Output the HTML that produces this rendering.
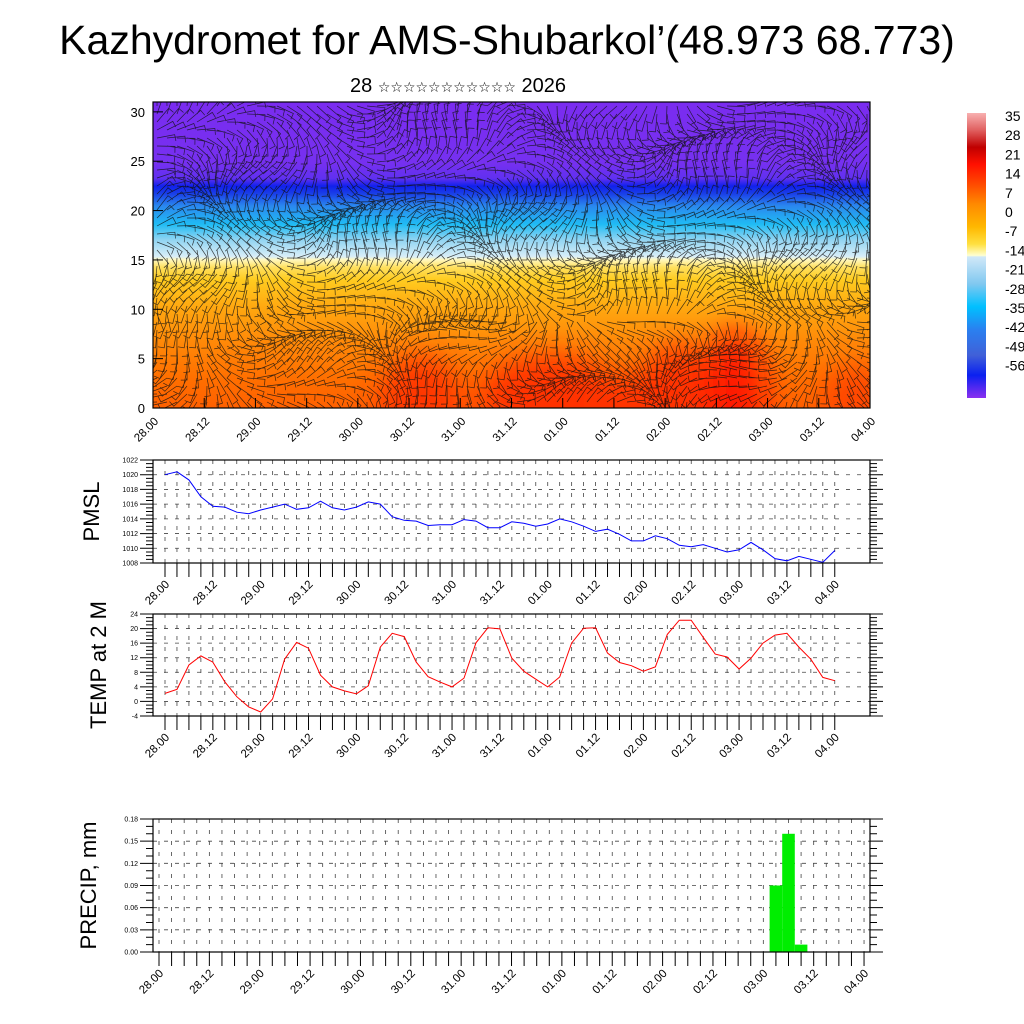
<!DOCTYPE html>
<html><head><meta charset="utf-8">
<style>
html,body{margin:0;padding:0;background:#fff;width:1024px;height:1024px;overflow:hidden}
svg{display:block;font-family:"Liberation Sans","DejaVu Sans",sans-serif}
</style></head>
<body>
<svg id="chart" width="1024" height="1024" viewBox="0 0 1024 1024" xmlns="http://www.w3.org/2000/svg">
<defs>
<linearGradient id="tgrad" x1="0" y1="1" x2="0" y2="0">
<stop offset="0" stop-color="#ff6000"/>
<stop offset="0.1" stop-color="#ff7000"/>
<stop offset="0.22" stop-color="#ff8a08"/>
<stop offset="0.33" stop-color="#ffa810"/>
<stop offset="0.42" stop-color="#ffcc20"/>
<stop offset="0.46" stop-color="#ffe060"/>
<stop offset="0.485" stop-color="#fff8c0"/>
<stop offset="0.495" stop-color="#d8eef8"/>
<stop offset="0.55" stop-color="#90d4f2"/>
<stop offset="0.6" stop-color="#20bcf4"/>
<stop offset="0.66" stop-color="#2a88ee"/>
<stop offset="0.7" stop-color="#1a40e8"/>
<stop offset="0.725" stop-color="#1020ec"/>
<stop offset="0.75" stop-color="#6030f0"/>
<stop offset="0.8" stop-color="#7630f0"/>
<stop offset="1" stop-color="#7a2cf0"/>
</linearGradient>
<linearGradient id="cbgrad" x1="0" y1="0" x2="0" y2="1">
<stop offset="0" stop-color="#f8b0b0"/>
<stop offset="0.06" stop-color="#e06060"/>
<stop offset="0.12" stop-color="#c00000"/>
<stop offset="0.18" stop-color="#ff1000"/>
<stop offset="0.25" stop-color="#ff4a00"/>
<stop offset="0.32" stop-color="#ff8a00"/>
<stop offset="0.4" stop-color="#ffb800"/>
<stop offset="0.46" stop-color="#ffe040"/>
<stop offset="0.5" stop-color="#ffffd0"/>
<stop offset="0.505" stop-color="#d0e8f8"/>
<stop offset="0.6" stop-color="#80c8f0"/>
<stop offset="0.68" stop-color="#00c0ff"/>
<stop offset="0.76" stop-color="#2a80f0"/>
<stop offset="0.85" stop-color="#4060d8"/>
<stop offset="0.92" stop-color="#0a20f0"/>
<stop offset="1" stop-color="#8a30f0"/>
</linearGradient>
<filter id="blur" x="-50%" y="-50%" width="200%" height="200%"><feGaussianBlur stdDeviation="14"/></filter>
<clipPath id="topclip"><rect x="153" y="102" width="717" height="306"/></clipPath>
</defs>
<text x="507" y="54" font-size="41" text-anchor="middle">Kazhydromet for AMS-Shubarkol’(48.973 68.773)</text>
<text x="458" y="92" font-size="20" text-anchor="middle">28 <tspan font-size="14">☆☆☆☆☆☆☆☆☆☆☆</tspan> 2026</text>
<g id="top"></g>
<g id="cbar"></g>
<g id="pmsl"></g>
<g id="temp"></g>
<g id="precip"></g>
</svg>
<script>
const timeLabels = ["28.00","28.12","29.00","29.12","30.00","30.12","31.00","31.12","01.00","01.12","02.00","02.12","03.00","03.12","04.00"];
const pmslValues = [1020.0,1020.4,1019.3,1017.0,1015.7,1015.6,1014.9,1014.7,1015.2,1015.6,1016.0,1015.3,1015.5,1016.4,1015.5,1015.2,1015.6,1016.3,1016.0,1014.3,1013.8,1013.7,1013.1,1013.2,1013.2,1013.9,1013.7,1012.8,1012.8,1013.6,1013.4,1013.0,1013.3,1014.0,1013.6,1013.0,1012.3,1012.6,1011.9,1011.0,1011.0,1011.7,1011.3,1010.4,1010.2,1010.5,1010.0,1009.5,1009.8,1010.8,1009.8,1008.6,1008.3,1008.9,1008.5,1008.1,1009.7];
const tempValues = [2.2,3.3,10.0,12.5,10.8,5.4,1.3,-1.5,-2.9,0.7,11.6,16.2,14.6,7.2,4.0,2.9,2.1,4.3,14.9,18.7,17.8,10.8,6.8,5.3,4.0,6.4,16.1,20.2,19.9,11.9,8.3,6.1,4.0,6.7,16.0,20.1,20.2,13.3,10.7,9.8,8.3,9.5,18.4,22.3,22.3,17.6,13.0,12.2,8.9,11.9,16.0,18.2,18.7,14.9,11.6,6.6,5.7];
const precipValues = [0,0,0,0,0,0,0,0,0,0,0,0,0,0,0,0,0,0,0,0,0,0,0,0,0,0,0,0,0,0,0,0,0,0,0,0,0,0,0,0,0,0,0,0,0,0,0,0,0,0.09,0.16,0.01,0,0,0,0,0];
const pmslTicks = [1008,1010,1012,1014,1016,1018,1020,1022];
const tempTicks = [-4,0,4,8,12,16,20,24];
const precipTicks = [0,0.03,0.06,0.09,0.12,0.15,0.18];
const heightTicks = [0,5,10,15,20,25,30];
const cbarLabels = ["35","28","21","14","7","0","-7","-14","-21","-28","-35","-42","-49","-56"];

const NS="http://www.w3.org/2000/svg";
function mk(parent,tag,attrs,txt){const e=document.createElementNS(NS,tag);for(const k in attrs)e.setAttribute(k,attrs[k]);if(txt!==undefined)e.textContent=txt;parent.appendChild(e);return e;}

/* ---------- top cross-section ---------- */
(function(){
  const g=document.getElementById('top');
  const L=153,R=870,T=102,B=408;
  const hy=v=>B-(v/31)*(B-T);
  mk(g,'rect',{x:L,y:T,width:R-L,height:B-T,fill:'url(#tgrad)'});
  const cg=mk(g,'g',{'clip-path':'url(#topclip)'});
  const bg=mk(cg,'g',{filter:'url(#blur)'});
  const blobs=[[420,405,40,50,'#ff3000'],[550,400,70,45,'#ff2800'],[680,395,40,50,'#ff2a00'],[735,390,30,60,'#ff1000'],[640,405,50,30,'#ff3000'],[855,400,30,35,'#ff4000']];
  blobs.forEach(b=>{const e=mk(bg,'ellipse',{cx:b[0],cy:b[1],rx:b[2],ry:b[3],fill:b[4],'fill-opacity':0.85});
  
  });
  // wind barb texture
  let d='';
  for(let x=L+4;x<R;x+=10){
    for(let y=T+4;y<B;y+=8){
      const a=Math.sin(x*0.021+y*0.013)*1.3+Math.cos(y*0.05-x*0.008)*0.9+ (y>B-90?1.2:0.3);
      const len=18;
      const dx=Math.cos(a)*len, dy=Math.sin(a)*len;
      d+=`M${x.toFixed(1)},${y.toFixed(1)}l${dx.toFixed(1)},${dy.toFixed(1)}`;
      d+=`l${(-dy*0.35).toFixed(1)},${(dx*0.35).toFixed(1)}`;
    }
  }
  const wb=mk(cg,'path',{d:d,stroke:'#111','stroke-width':0.7,'stroke-opacity':0.8,fill:'none'});
  
  
  mk(g,'rect',{x:L,y:T,width:R-L,height:B-T,fill:'none',stroke:'#000','stroke-width':1.2});
  heightTicks.forEach(v=>{const y=hy(v);
    mk(g,'line',{x1:L,x2:L+10,y1:y,y2:y,stroke:'#000'});
    const t=mk(g,'text',{x:L-8,y:y+5,'font-size':13,'text-anchor':'end'},v);
    
    });
  timeLabels.forEach((s,i)=>{const x=L+i*(R-L)/14;
    mk(g,'line',{x1:x,x2:x,y1:B,y2:B-10,stroke:'#000'});
    const t=mk(g,'text',{x:x+6,y:B+14,'font-size':11.5,'text-anchor':'end',transform:`rotate(-45 ${x+6} ${B+14})`},s);
    
    });
})();

/* ---------- colorbar ---------- */
(function(){
  const g=document.getElementById('cbar');
  mk(g,'rect',{x:967,y:113,width:19,height:285,fill:'url(#cbgrad)'});
  cbarLabels.forEach((s,i)=>{const t=mk(g,'text',{x:1005,y:121+i*19.2,'font-size':14},s);
    
    });
})();

/* ---------- line / bar panels ---------- */
function panel(id,o){
  const g=document.getElementById(id);
  const {L,R,T,B,x0,dx,ymin,ymax,ticks,fmt,minor}=o;
  const sy=v=>B-(v-ymin)/(ymax-ymin)*(B-T);
  const sx=i=>x0+i*dx;
  const n=57;
  let gd='';
  for(let i=0;i<n;i++){const x=sx(i);gd+=`M${x},${T}V${B}`;}
  ticks.forEach(v=>{if(v>ymin&&v<ymax)gd+=`M${L},${sy(v)}H${R}`;});
  mk(g,'path',{d:gd,stroke:'#444','stroke-width':0.8,'stroke-dasharray':'4,7',fill:'none'});
  if(o.bars){
    o.values.forEach((v,i)=>{if(v>0){const b=mk(g,'rect',{x:sx(i)-dx/2,y:sy(v),width:dx,height:sy(0)-sy(v),fill:'#00ee00'});
      
      }});
  } else {
    const p=mk(g,'polyline',{points:o.values.map((v,i)=>sx(i).toFixed(1)+','+sy(v).toFixed(1)).join(' '),fill:'none',stroke:o.color,'stroke-width':1});
    
    
  }
  mk(g,'rect',{x:L,y:T,width:R-L,height:B-T,fill:'none',stroke:'#000','stroke-width':1.2});
  let td='';
  const step=(ticks[1]-ticks[0])/minor;
  for(let v=ymin;v<=ymax+1e-9;v+=step){const y=sy(v);const major=Math.abs(((v-ymin)/(ticks[1]-ticks[0]))-Math.round((v-ymin)/(ticks[1]-ticks[0])))<1e-6;
    const len=major?13:7; td+=`M${L-len},${y}H${L}M${R},${y}H${R+len}`;}
  for(let i=0;i<n;i++){const x=sx(i);td+=`M${x},${B}v14`;}
  mk(g,'path',{d:td,stroke:'#000','stroke-width':1,fill:'none'});
  ticks.forEach(v=>{const t=mk(g,'text',{x:L-15,y:sy(v)+2.5,'font-size':7,'text-anchor':'end'},fmt(v));
    
    });
  timeLabels.forEach((s,k)=>{const x=sx(k*4)+5, y=B+22;
    const t=mk(g,'text',{x:x,y:y,'font-size':11.5,'text-anchor':'end',transform:`rotate(-45 ${x} ${y})`},s);
    
    });
  const cy=(T+B)/2;
  const at=mk(g,'text',{x:o.titleX,y:cy,'font-size':22,'text-anchor':'middle',transform:`rotate(-90 ${o.titleX} ${cy})`},o.title);
  
  
}
panel('pmsl',{L:153,R:870,T:460,B:563,x0:165,dx:11.96,ymin:1008,ymax:1022,ticks:pmslTicks,minor:4,fmt:v=>String(v),values:pmslValues,color:'#0000ff',seriesName:'pmsl-line',title:'PMSL',titleX:99});
panel('temp',{L:153,R:870,T:614,B:716,x0:165,dx:11.96,ymin:-4,ymax:24,ticks:tempTicks,minor:4,fmt:v=>String(v),values:tempValues,color:'#ff0000',seriesName:'temp-line',title:'TEMP at 2 M',titleX:106});
panel('precip',{L:153,R:870,T:819,B:952,x0:159,dx:12.59,ymin:0,ymax:0.18,ticks:precipTicks,minor:3,fmt:v=>v.toFixed(2),values:precipValues,bars:true,title:'PRECIP, mm',titleX:96});
</script>
</body></html>
